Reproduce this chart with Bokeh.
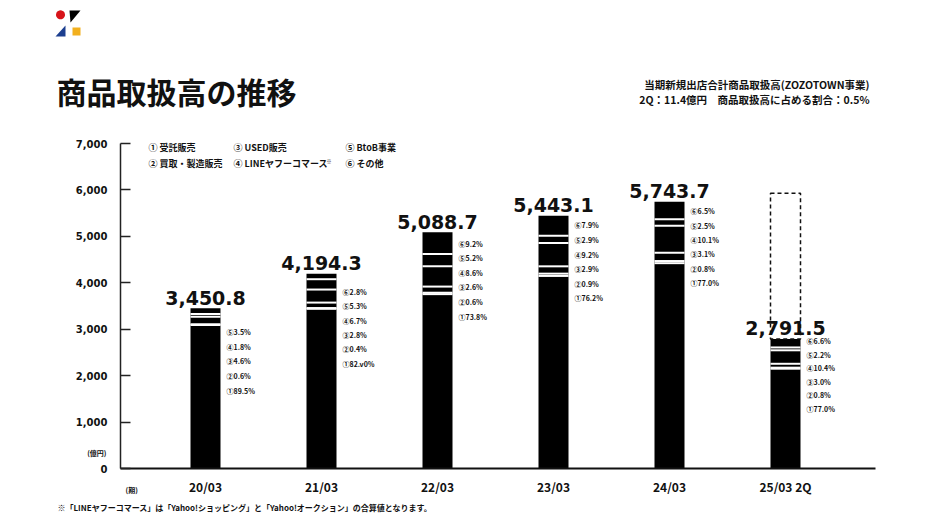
import numpy as np
from bokeh.plotting import figure
from bokeh.models import (Range1d, FixedTicker, NumeralTickFormatter, Label, PolyAnnotation,
                          LinearAxis)
from bokeh.core.properties import value
from bokeh.embed import file_html
from bokeh.resources import INLINE

# ---------------- data ----------------
periods = ["20/03", "21/03", "22/03", "23/03", "24/03", "25/03 2Q"]
totals = [3450.8, 4194.3, 5088.7, 5443.1, 5743.7, 2791.5]   # 億円
# shares (%) by segment, bottom -> top
share_consign = [89.5, 82.0, 73.8, 76.2, 77.0, 77.0]   # ① 受託販売
share_buy     = [0.6, 0.4, 0.6, 0.9, 0.8, 0.8]         # ② 買取・製造販売
share_used    = [4.6, 2.8, 2.6, 2.9, 3.1, 3.0]         # ③ USED販売
share_lyc     = [1.8, 6.7, 8.6, 9.2, 10.1, 10.4]       # ④ LINEヤフーコマース
share_btob    = [3.5, 5.3, 5.2, 2.9, 2.5, 2.2]         # ⑤ BtoB事業
share_other   = [0.0, 2.8, 9.2, 7.9, 6.5, 6.6]         # ⑥ その他
plan_25 = 5930.0                                       # dashed full-year outline
y_ticks = [0, 1000, 2000, 3000, 4000, 5000, 6000, 7000]
seg_marks = ["①", "②", "③", "④", "⑤", "⑥"]
seg_names = ["受託販売", "買取・製造販売", "USED販売", "LINEヤフーコマース", "BtoB事業", "その他"]

# ---------------- layout (pixels) ----------------
W, H = 926, 521
PX_LEFT, PX_RIGHT = 120, 875     # chart area horizontal extent
PX_TOP, PX_ZERO = 143, 468       # y=7000 and y=0
BAR0, STEP = 205, 116            # first bar centre, spacing
JP = "Noto Sans CJK JP"
NUM = "DejaVu Sans"
Y_MAX = 7000.0
UPP = Y_MAX / (PX_ZERO - PX_TOP)  # data units per pixel (y)
BAR_W = 30 / STEP

x_lo, x_hi = (PX_LEFT - BAR0) / STEP, (PX_RIGHT - BAR0) / STEP

p = figure(width=W, height=H, output_backend="svg", toolbar_location=None,
           x_range=Range1d(-BAR0 / STEP, (W - BAR0) / STEP),
           y_range=Range1d((PX_ZERO - H) * UPP, PX_ZERO * UPP),
           x_axis_type=None, y_axis_type=None, min_border=0)
p.outline_line_color = None
p.background_fill_color = "white"
p.border_fill_color = "white"

# y axis
ya = LinearAxis(fixed_location=x_lo, bounds=(0, Y_MAX))
ya.ticker = FixedTicker(ticks=y_ticks)
ya.formatter = NumeralTickFormatter(format="0,0")
ya.major_tick_in = 10
ya.major_tick_out = 0
ya.minor_tick_line_color = None
ya.major_tick_line_color = "#222222"
ya.major_tick_line_width = 1.5
ya.axis_line_color = "#222222"
ya.axis_line_width = 1.5
ya.major_label_text_font = NUM
ya.major_label_text_font_style = "bold"
ya.major_label_text_font_size = "10px"
ya.major_label_text_color = "#111111"
ya.major_label_standoff = 13
p.add_layout(ya, "left")

# x axis
xs = list(range(len(periods)))
xa = LinearAxis(fixed_location=0, bounds=(x_lo, x_hi))
xa.ticker = FixedTicker(ticks=xs)
xa.major_label_overrides = {i: periods[i] for i in xs}
xa.major_tick_line_color = None
xa.major_tick_in = 0
xa.major_tick_out = 0
xa.minor_tick_line_color = None
xa.axis_line_color = "#111111"
xa.axis_line_width = 2
xa.major_label_text_font = JP
xa.major_label_text_font_style = "bold"
xa.major_label_text_font_size = "12px"
xa.major_label_text_color = "#111111"
xa.major_label_standoff = 9
p.add_layout(xa, "below")

# bars
p.vbar(x=xs, width=BAR_W, top=totals, bottom=0, fill_color="black", line_color=None)

shares = [share_consign, share_buy, share_used, share_lyc, share_btob, share_other]
sx0, sx1, sy = [], [], []
for i, t in enumerate(totals):
    cum = 0.0
    for k in range(len(shares) - 1):
        cum += shares[k][i]
        rest = sum(shares[j][i] for j in range(k + 1, len(shares)))
        if rest <= 0:
            break
        sx0.append(i - BAR_W / 2)
        sx1.append(i + BAR_W / 2)
        sy.append(t * cum / 100.0)
p.segment(x0=sx0, y0=sy, x1=sx1, y1=sy, line_color="white", line_width=2)

# dashed outline for the remaining full-year amount
p.quad(left=[xs[-1] - BAR_W / 2], right=[xs[-1] + BAR_W / 2], bottom=[totals[-1]], top=[plan_25],
       fill_color=None, line_color="#111111", line_width=1.5, line_dash="4 3")

# total labels
p.text(x=xs, y=[t + 10.5 * UPP for t in totals], text=[f"{t:,.1f}" for t in totals],
       text_font=value(NUM), text_font_style="bold", text_font_size="19px",
       text_align="center", text_baseline="alphabetic", text_color="#111111")

# share labels to the right of each bar (top segment first)
start_px = [24.0, 18.4, 11.3, 9.7, 9.4, 2.3]
step_px = [14.6, 14.3, 14.6, 14.6, 14.4, 13.5]
overrides = {(1, 0): "82.v0%"}
lx, ly, lt = [], [], []
for i, t in enumerate(totals):
    j = 0
    for k in range(len(shares) - 1, -1, -1):
        v = shares[k][i]
        if v <= 0:
            continue
        txt = overrides.get((i, k), f"{v:.1f}%")
        lx.append(i + BAR_W / 2 + 6 / STEP)
        ly.append(t - (start_px[i] + j * step_px[i]) * UPP)
        lt.append(seg_marks[k] + txt)
        j += 1
p.text(x=lx, y=ly, text=lt, text_font=value(JP), text_font_style="bold", text_font_size="7px",
       text_align="left", text_baseline="middle", text_color="#111111")


def clabel(x, y, text, size, bold=True, align="left", baseline="middle", font=JP, color="#111111"):
    p.add_layout(Label(x=x, y=y, x_units="canvas", y_units="canvas", text=text,
                       text_font=font, text_font_size=size,
                       text_font_style="bold" if bold else "normal",
                       text_align=align, text_baseline=baseline, text_color=color))


# title and header notes
clabel(56, 90, "商品取扱高の推移", "30px")
clabel(869, 84, "当期新規出店合計商品取扱高(ZOZOTOWN事業)", "10.5px", align="right")
clabel(869, 99, "2Q：11.4億円　商品取扱高に占める割合：0.5%", "10.5px", align="right")

# legend
leg_x = [148, 233, 345]
leg_y = [147, 163]
for k in range(6):
    clabel(leg_x[k // 2], leg_y[k % 2], f"{seg_marks[k]} {seg_names[k]}", "9px")
clabel(326, 160, "※", "5px")

# axis unit notes
clabel(106, 452, "(億円)", "7px", align="right")
clabel(125, 489, "(期)", "7px")

# footnote
clabel(57, 507, "※「LINEヤフーコマース」は「Yahoo!ショッピング」と「Yahoo!オークション」の合算値となります。", "8px")

# logo
ang = np.linspace(0, 2 * np.pi, 24, endpoint=False)
p.add_layout(PolyAnnotation(xs=list(60 + 4.5 * np.cos(ang)), ys=list(14.3 + 4.5 * np.sin(ang)),
                            xs_units="canvas", ys_units="canvas",
                            fill_color="#d7141a", fill_alpha=1, line_color=None))
p.add_layout(PolyAnnotation(xs=[69, 80, 70], ys=[10, 10, 22],
                            xs_units="canvas", ys_units="canvas",
                            fill_color="black", fill_alpha=1, line_color=None))
p.add_layout(PolyAnnotation(xs=[55, 65, 65], ys=[36, 36, 25],
                            xs_units="canvas", ys_units="canvas",
                            fill_color="#1c3f8f", fill_alpha=1, line_color=None))
p.add_layout(PolyAnnotation(xs=[72, 80, 80, 72], ys=[27, 27, 35, 35],
                            xs_units="canvas", ys_units="canvas",
                            fill_color="#f2b01e", fill_alpha=1, line_color=None))

open("out.html", "w").write(file_html(p, INLINE))
